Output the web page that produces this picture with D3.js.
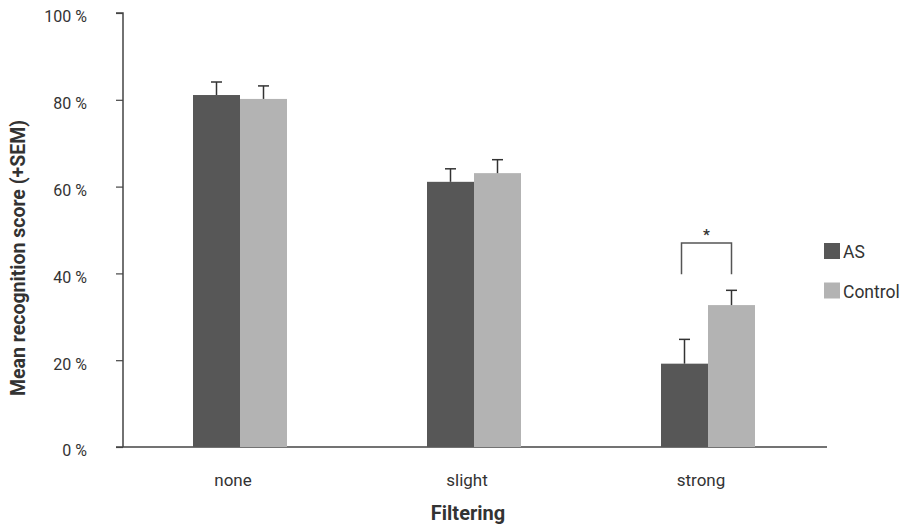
<!DOCTYPE html>
<html><head><meta charset="utf-8">
<script src="https://cdn.jsdelivr.net/npm/d3@7"></script>
<style>
body{margin:0;background:#fff;}
text{font-family:Roboto,"DejaVu Sans",sans-serif;fill:#333;}
</style></head>
<body><svg id="c" width="904" height="525"></svg>
<script>
const categories = ["none", "slight", "strong"];
const seriesNames = ["AS", "Control"];
const asValues = [81.1, 61.1, 19.2];
const asSEM = [3.0, 3.0, 5.6];
const controlValues = [80.2, 63.1, 32.7];
const controlSEM = [3.0, 3.1, 3.4];
const yTicks = [0, 20, 40, 60, 80, 100];
const yTickLabels = ["0 %", "20 %", "40 %", "60 %", "80 %", "100 %"];
const significance = [{category: "strong", top: 47, bottom: 39.8, label: "*"}];

const colors = {AS: "#575757", Control: "#b3b3b3"};
const svg = d3.select("#c");
const plotLeft = 123, plotRight = 825, plotTop = 13, plotBottom = 447;

const y = d3.scaleLinear().domain([0, 100]).range([plotBottom, plotTop]);
const x0 = d3.scaleBand().domain(categories).range([plotLeft, plotRight]).padding(0);
const pairW = 94;
const x1 = d3.scaleBand().domain(seriesNames).range([0, pairW]).padding(0);

const data = categories.map((c, i) => ({
  cat: c,
  vals: [
    {s: "AS", v: asValues[i], e: asSEM[i]},
    {s: "Control", v: controlValues[i], e: controlSEM[i]}
  ]
}));

// x axis line
svg.append("line").attr("x1", 116).attr("x2", plotRight + 2)
  .attr("y1", y(0)).attr("y2", y(0)).attr("stroke", "#444").attr("stroke-width", 1.5);

// y axis
const yAxis = d3.axisLeft(y).tickValues(yTicks).tickSize(7)
  .tickFormat((d, i) => yTickLabels[i]);
const ya = svg.append("g").attr("transform", `translate(${plotLeft},0)`).call(yAxis);
ya.select(".domain").attr("stroke", "#444").attr("stroke-width", 1.5).attr("d", `M-7,${y(100)}H0V${y(0)}`);
ya.selectAll(".tick line").attr("stroke", "#444").attr("stroke-width", 1.2);
ya.selectAll(".tick text").attr("x", -36).attr("dy", "0.55em")
  .style("font-size", "16px").style("font-family", "Roboto, sans-serif").attr("fill", "#333");

// bars
const g = svg.append("g");
const groups = g.selectAll("g.grp").data(data).join("g")
  .attr("transform", d => `translate(${x0(d.cat) + x0.bandwidth() / 2 - pairW / 2},0)`);
groups.selectAll("rect").data(d => d.vals).join("rect")
  .attr("x", d => x1(d.s)).attr("width", x1.bandwidth())
  .attr("y", d => y(d.v)).attr("height", d => y(0) - y(d.v))
  .attr("fill", d => colors[d.s]);
// error bars
const eb = groups.selectAll("g.eb").data(d => d.vals).join("g");
eb.append("line")
  .attr("x1", d => x1(d.s) + x1.bandwidth() / 2).attr("x2", d => x1(d.s) + x1.bandwidth() / 2)
  .attr("y1", d => y(d.v)).attr("y2", d => y(d.v + d.e))
  .attr("stroke", "#333").attr("stroke-width", 1.5);
eb.append("line")
  .attr("x1", d => x1(d.s) + x1.bandwidth() / 2 - 5.5).attr("x2", d => x1(d.s) + x1.bandwidth() / 2 + 5.5)
  .attr("y1", d => y(d.v + d.e)).attr("y2", d => y(d.v + d.e))
  .attr("stroke", "#333").attr("stroke-width", 1.5);

// significance bracket
significance.forEach(s => {
  const base = x0(s.category) + x0.bandwidth() / 2 - pairW / 2;
  const xa = base + x1("AS") + x1.bandwidth() / 2 - 3;
  const xb = base + x1("Control") + x1.bandwidth() / 2;
  svg.append("path")
    .attr("d", `M${xa},${y(s.bottom)}V${y(s.top)}H${xb}V${y(s.bottom)}`)
    .attr("fill", "none").attr("stroke", "#555").attr("stroke-width", 1.5);
  svg.append("text").attr("x", (xa + xb) / 2).attr("y", y(s.top) - 3)
    .attr("text-anchor", "middle").style("font-size", "15px").style("font-weight", "bold").text(s.label);
});

// x labels
svg.selectAll("text.xl").data(categories).join("text").attr("class", "xl")
  .attr("x", d => x0(d) + x0.bandwidth() / 2 - 7).attr("y", 486)
  .attr("text-anchor", "middle").style("font-size", "17px").text(d => d);

svg.append("text").attr("x", 468).attr("y", 520).attr("text-anchor", "middle")
  .style("font-size", "20px").style("font-weight", "bold").attr("fill", "#222").text("Filtering");

svg.append("text").attr("transform", "translate(25,258) rotate(-90)")
  .attr("text-anchor", "middle").style("font-size", "19.5px").style("font-weight", "bold")
  .attr("fill", "#222").text("Mean recognition score (+SEM)");

// legend
const lg = svg.selectAll("g.lg").data(seriesNames).join("g")
  .attr("transform", (d, i) => `translate(824,${243 + i * 39.5})`);
lg.append("rect").attr("width", 16).attr("height", 16).attr("fill", d => colors[d]);
lg.append("text").attr("x", 19).attr("y", 15).style("font-size", "17.5px").text(d => d);
</script></body></html>
